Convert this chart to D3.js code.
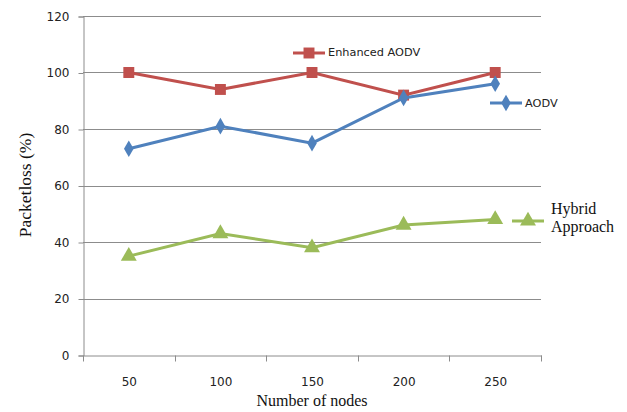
<!DOCTYPE html>
<html>
<head>
<meta charset="utf-8">
<script src="https://cdn.jsdelivr.net/npm/d3@7"></script>
<style>
  body { margin: 0; background: #fff; }
</style>
</head>
<body>
<svg width="627" height="412"></svg>
<script>
let nodes = [ '50', '100', '150', '200', '250' ]
let enhanced = [ 100, 94, 100, 92, 100 ]
let aodv = [ 73, 81, 75, 91, 96 ]
let hybrid = [ 35, 43, 38, 46, 48 ]
let yTicks = [ 0, 20, 40, 60, 80, 100, 120 ]

let plotLeft = 83, plotRight = 541, plotTop = 16, plotBottom = 355

const xScale =
d3.scaleBand()
  .domain( nodes )
  .range( [ plotLeft, plotRight ] )

const yScale =
d3.scaleLinear()
  .domain( [ 0, 120 ] )
  .range( [ plotBottom, plotTop ] )

let chart = d3.select( 'svg' )

// gridlines
chart.append( 'g' )
  .selectAll( 'line' )
  .data( yTicks.slice( 1 ) )
  .enter()
  .append( 'line' )
  .attr( 'x1', plotLeft )
  .attr( 'x2', plotRight )
  .attr( 'y1', d => Math.round( yScale( d ) ) + .5 )
  .attr( 'y2', d => Math.round( yScale( d ) ) + .5 )
  .attr( 'stroke', '#8c8c8c' )
  .attr( 'stroke-width', 1 )

let tickFont = 'Verdana, "DejaVu Sans", sans-serif'

let yAxis =
chart.append( 'g' )
  .attr( 'transform', `translate(${ plotLeft + .5 },0.5)` )
  .call( d3.axisLeft( yScale ).tickValues( yTicks ).tickSize( 5 ).tickPadding( 9 ) )

let xAxis =
chart.append( 'g' )
  .attr( 'transform', `translate(0.5,${ plotBottom + .5 })` )
  .call( d3.axisBottom( xScale ).tickSize( 0 ).tickPadding( 22 ) )

// band boundary ticks on x axis
xAxis.selectAll( '.bound' )
  .data( nodes.concat( [ 'end' ] ) )
  .enter()
  .append( 'line' )
  .attr( 'class', 'bound' )
  .attr( 'x1', ( d, i ) => Math.round( plotLeft + i * xScale.step() ) )
  .attr( 'x2', ( d, i ) => Math.round( plotLeft + i * xScale.step() ) )
  .attr( 'y1', 0 )
  .attr( 'y2', 6 )
  .attr( 'stroke', '#8c8c8c' )

chart.selectAll( '.domain' ).attr( 'stroke', '#8c8c8c' )
chart.selectAll( '.tick line' ).attr( 'stroke', '#8c8c8c' )
chart.selectAll( '.tick text' )
  .attr( 'font-family', tickFont )
  .attr( 'font-size', 12 )
  .attr( 'fill', '#222' )

let series = [
  { name: 'Enhanced AODV', values: enhanced, color: '#C0504D', shape: d3.symbolSquare, size: 120 },
  { name: 'AODV', values: aodv, color: '#4F81BD', shape: d3.symbolDiamond, size: 80 },
  { name: 'Hybrid', values: hybrid, color: '#9BBB59', shape: d3.symbolTriangle, size: 110 }
]

let cx = d => xScale( d ) + xScale.bandwidth() / 2

let line =
d3.line()
  .x( ( d, i ) => cx( nodes[ i ] ) )
  .y( d => yScale( d ) )

series.forEach( s => {
  chart.append( 'path' )
    .datum( s.values )
    .attr( 'd', line )
    .attr( 'fill', 'none' )
    .attr( 'stroke', s.color )
    .attr( 'stroke-width', 3 )

  chart.selectAll( null )
    .data( s.values )
    .enter()
    .append( 'path' )
    .attr( 'd', d3.symbol().type( s.shape ).size( s.size ) )
    .attr( 'transform', ( d, i ) => `translate(${ cx( nodes[ i ] ) },${ yScale( d ) })` )
    .attr( 'fill', s.color )
} )

// legend entries
let legend = [
  { s: series[ 0 ], x: 293, y: 53 },
  { s: series[ 1 ], x: 490, y: 103 },
  { s: series[ 2 ], x: 512, y: 221 }
]

legend.forEach( l => {
  chart.append( 'line' )
    .attr( 'x1', l.x )
    .attr( 'x2', l.x + 32 )
    .attr( 'y1', l.y )
    .attr( 'y2', l.y )
    .attr( 'stroke', l.s.color )
    .attr( 'stroke-width', 3 )
  chart.append( 'path' )
    .attr( 'd', d3.symbol().type( l.s.shape ).size( l.s.size ) )
    .attr( 'transform', `translate(${ l.x + 16 },${ l.y })` )
    .attr( 'fill', l.s.color )
} )

chart.append( 'text' )
  .text( 'Enhanced AODV' )
  .attr( 'x', 328 )
  .attr( 'y', 53 )
  .attr( 'dominant-baseline', 'middle' )
  .attr( 'font-family', tickFont )
  .attr( 'font-size', 11.3 )
  .attr( 'fill', '#222' )

chart.append( 'text' )
  .text( 'AODV' )
  .attr( 'x', 525 )
  .attr( 'y', 104 )
  .attr( 'dominant-baseline', 'middle' )
  .attr( 'font-family', tickFont )
  .attr( 'font-size', 11.3 )
  .attr( 'fill', '#222' )

let serif = '"Liberation Serif", "Times New Roman", serif'

chart.append( 'text' )
  .attr( 'font-family', serif )
  .attr( 'font-size', 16 )
  .attr( 'fill', '#111' )
  .selectAll( 'tspan' )
  .data( [ 'Hybrid', 'Approach' ] )
  .enter()
  .append( 'tspan' )
  .attr( 'x', 551 )
  .attr( 'y', ( d, i ) => 214 + i * 18 )
  .text( d => d )

chart.append( 'text' )
  .text( 'Packetloss (%)' )
  .attr( 'transform', 'translate(31,185) rotate(-90)' )
  .attr( 'text-anchor', 'middle' )
  .attr( 'font-family', serif )
  .attr( 'font-size', 17.5 )
  .attr( 'fill', '#111' )

chart.append( 'text' )
  .text( 'Number of nodes' )
  .attr( 'x', 312 )
  .attr( 'y', 406 )
  .attr( 'text-anchor', 'middle' )
  .attr( 'font-family', serif )
  .attr( 'font-size', 16 )
  .attr( 'fill', '#111' )
</script>
</body>
</html>
